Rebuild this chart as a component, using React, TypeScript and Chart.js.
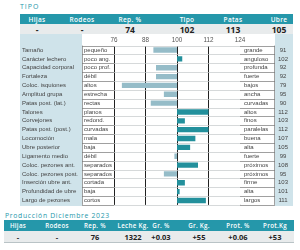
import React, { useEffect, useRef } from 'react';
import { Chart, registerables } from 'chart.js';

Chart.register(...registerables);

const traits = ['Tamaño', 'Carácter lechero', 'Capacidad corporal', 'Fortaleza', 'Coloc. isquiones', 'Amplitud grupa', 'Patas post. (lat.)', 'Talones', 'Corvejones', 'Patas post. (post.)', 'Locomoción', 'Ubre posterior', 'Ligamento medio', 'Coloc. pezones ant.', 'Coloc. pezones post.', 'Inserción ubre ant.', 'Profundidad de ubre', 'Largo de pezones'];
const lowLabels = ['pequeño', 'poco ang.', 'poco prof.', 'débil', 'altos', 'estrecha', 'rectas', 'planos', 'redond.', 'curvadas', 'mala', 'baja', 'débil', 'separados', 'separados', 'cortada', 'baja', 'cortos'];
const highLabels = ['grande', 'anguloso', 'profunda', 'fuerte', 'bajos', 'ancha', 'curvadas', 'altos', 'finos', 'paralelas', 'buena', 'alta', 'fuerte', 'próximos', 'próximos', 'firme', 'alta', 'largos'];
const traitValues = [91, 102, 92, 92, 79, 95, 90, 112, 103, 112, 107, 105, 99, 108, 95, 103, 101, 111];
const axisTicks = [76, 88, 100, 112, 124];
const baseValue = 100;

const summaryHeaders = ['Hijas', 'Rodeos', 'Rep. %', 'Tipo', 'Patas', 'Ubre'];
const summaryValues = ['-', '-', '74', '102', '113', '105'];
const prodHeaders = ['Hijas', 'Rodeos', 'Rep. %', 'Leche Kg.', 'Gr. %', 'Gr. Kg.', 'Prot. %', 'Prot.Kg'];
const prodValues = ['-', '-', '76', '1322', '+0.03', '+55', '+0.06', '+53'];

const TEAL = '#2597aa';
const BAR_HIGH = '#23909c';
const BAR_LOW = '#95bcc8';
const LIGHT_BG = '#cfe3ea';
const ROW_BG = '#e8ebec';
const SANS = '"Open Sans", "Liberation Sans", sans-serif';
const NARROW = '"Liberation Sans", Arial, sans-serif';

const summaryCenters = [17, 62, 110, 167, 213, 259];
const prodCenters = [14, 53, 91, 129, 157, 195, 234, 271];

export default function App() {
  const ref = useRef<HTMLCanvasElement>(null);

  useEffect(() => {
    const canvas = ref.current;
    if (!canvas) return;

    const tablePlugin = {
      id: 'traitTable',
      beforeDatasetsDraw(chart: any) {
        const { ctx, chartArea, scales } = chart;
        const y = scales.y;
        const H = chart.height;
        const W = chart.width;
        const n = traits.length;
        const pitch = (chartArea.bottom - chartArea.top) / n;
        ctx.save();
        ctx.fillStyle = LIGHT_BG;
        ctx.fillRect(0, 0, 62, H);
        ctx.fillRect(255, 0, W - 255, H);
        ctx.fillStyle = '#ffffff';
        ctx.fillRect(62, chartArea.top, chartArea.left - 62, chartArea.bottom - chartArea.top);
        ctx.fillRect(chartArea.right, chartArea.top, 255 - chartArea.right, chartArea.bottom - chartArea.top);
        ctx.lineWidth = 0.7;
        for (let i = 0; i <= n; i++) {
          const yy = Math.round((i < n ? y.getPixelForValue(i) - pitch / 2 : y.getPixelForValue(n - 1) + pitch / 2)) + 0.5;
          ctx.strokeStyle = '#777';
          ctx.beginPath();
          ctx.moveTo(62, yy);
          ctx.lineTo(chartArea.left, yy);
          ctx.moveTo(chartArea.right, yy);
          ctx.lineTo(255, yy);
          ctx.stroke();
          ctx.strokeStyle = '#c4c8ca';
          ctx.beginPath();
          ctx.moveTo(chartArea.left, yy);
          ctx.lineTo(chartArea.right, yy);
          ctx.stroke();
        }
        ctx.strokeStyle = '#777';
        ctx.beginPath();
        ctx.moveTo(62.5, chartArea.top);
        ctx.lineTo(62.5, chartArea.bottom);
        ctx.moveTo(254.5, chartArea.top);
        ctx.lineTo(254.5, chartArea.bottom);
        ctx.stroke();
        ctx.restore();
      },
      afterDatasetsDraw(chart: any) {
        const { ctx, scales } = chart;
        const y = scales.y;
        ctx.save();
        ctx.textBaseline = 'middle';
        ctx.fillStyle = '#444';
        traits.forEach((t, i) => {
          const yy = y.getPixelForValue(i);
          ctx.font = `6px ${NARROW}`;
          ctx.textAlign = 'left';
          ctx.fillText(t, 2, yy);
          ctx.fillText(lowLabels[i], 64, yy);
          ctx.fillText(highLabels[i], 224, yy);
          ctx.textAlign = 'center';
          ctx.fillText(String(traitValues[i]), 263, yy);
        });
        ctx.restore();
      },
    };

    const chart = new Chart(canvas, {
      type: 'bar',
      data: {
        labels: traits,
        datasets: [
          {
            data: traitValues.map((v) => [baseValue, v]) as any,
            backgroundColor: traitValues.map((v) => (v >= baseValue ? BAR_HIGH : BAR_LOW)),
            borderWidth: 0,
            borderSkipped: false,
            barPercentage: 0.6,
            categoryPercentage: 1,
          },
        ],
      },
      options: {
        indexAxis: 'y',
        animation: false,
        responsive: false,
        maintainAspectRatio: false,
        events: [],
        layout: { padding: { left: 94, right: 53, top: 0, bottom: 1.1 } },
        plugins: { legend: { display: false }, tooltip: { enabled: false } },
        scales: {
          x: {
            type: 'linear',
            position: 'top',
            min: 76,
            max: 124,
            afterBuildTicks: (s: any) => {
              s.ticks = axisTicks.map((v) => ({ value: v }));
            },
            afterFit: (s: any) => {
              s.height = 11.6;
            },
            ticks: { font: { size: 6.3, family: NARROW }, color: '#555', padding: 2 },
            grid: { color: '#222', lineWidth: 1, drawTicks: false },
            border: { display: false },
          },
          y: {
            type: 'category',
            display: false,
          },
        },
      },
      plugins: [tablePlugin],
    } as any);

    return () => chart.destroy();
  }, []);

  const centered = (x: number): React.CSSProperties => ({
    position: 'absolute',
    left: x,
    top: 0,
    height: '100%',
    display: 'flex',
    alignItems: 'center',
    transform: 'translateX(-50%)',
    whiteSpace: 'nowrap',
  });

  return (
    <div style={{ position: 'fixed', left: 0, top: 0, width: 300, height: 250, background: '#fff', fontFamily: SANS, overflow: 'hidden' }}>
      <div style={{ position: 'absolute', left: 20, top: 2, fontSize: 7, color: TEAL, letterSpacing: 1, lineHeight: '9px' }}>TIPO</div>
      <div style={{ position: 'absolute', left: 20, top: 14, width: 273, height: 10, background: TEAL, color: '#fff', fontSize: 6.5, fontWeight: 600, letterSpacing: 0.3 }}>
        {summaryHeaders.map((h, i) => (
          <span key={h} style={centered(summaryCenters[i])}>{h}</span>
        ))}
      </div>
      <div style={{ position: 'absolute', left: 20, top: 24, width: 273, height: 10, background: ROW_BG, color: '#222', fontSize: 8.5, fontWeight: 700 }}>
        {summaryValues.map((v, i) => (
          <span key={i} style={centered(summaryCenters[i])}>{v}</span>
        ))}
      </div>
      <canvas ref={ref} width={273} height={172} style={{ position: 'absolute', left: 20, top: 34, width: 273, height: 172 }} />
      <div style={{ position: 'absolute', left: 5, top: 211, fontSize: 6.8, color: TEAL, letterSpacing: 0.7, lineHeight: '9px' }}>Producción Diciembre 2023</div>
      <div style={{ position: 'absolute', left: 4, top: 220, width: 290, height: 11, background: TEAL, color: '#fff', fontSize: 6.2, fontWeight: 600, letterSpacing: 0.3 }}>
        {prodHeaders.map((h, i) => (
          <span key={h} style={centered(prodCenters[i])}>{h}</span>
        ))}
      </div>
      <div style={{ position: 'absolute', left: 4, top: 231, width: 290, height: 11, background: ROW_BG, borderBottom: '1px solid #b9c3c6', color: '#222', fontSize: 7.5, fontWeight: 700 }}>
        {prodValues.map((v, i) => (
          <span key={i} style={centered(prodCenters[i])}>{v}</span>
        ))}
      </div>
    </div>
  );
}
